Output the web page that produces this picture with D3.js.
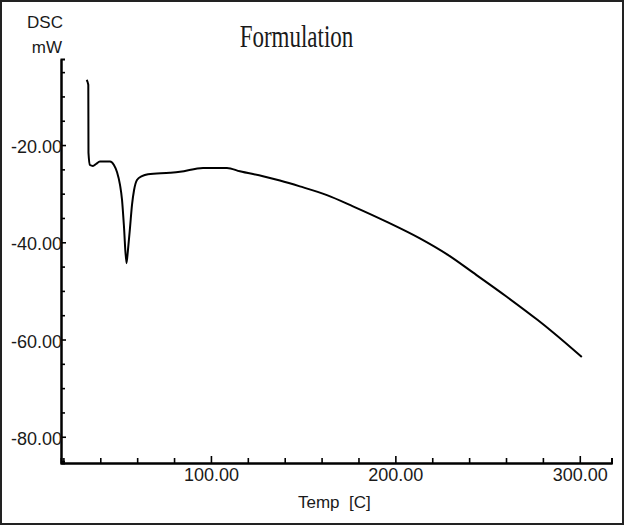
<!DOCTYPE html>
<html>
<head>
	<meta charset="UTF-8">
	<title>DSC Formulation</title>
	<script src="https://cdn.jsdelivr.net/npm/d3@7/dist/d3.min.js"></script>
	<style>
		body { margin: 0; background: #fff; }
		svg text { font-family: "Liberation Sans", Arial, sans-serif; fill: #1a1a1a; }
	</style>
</head>
<body>
	<div id="chart"></div>
	<script type="text/javascript">
	// DSC trace
	var tempC = [32.6, 33.5, 33.6, 34.4, 36.0, 37.7, 39.8, 45.3, 47.4, 49.1, 50.7, 51.8, 52.8, 54.2,
		55.0, 56.1, 57.2, 58.3, 59.9, 62.6, 65.9, 77.8, 83.2, 95.7, 108.7, 115.7, 128.2, 137.4,
		148.2, 162.9, 177.0, 195.4, 213.3, 228.5, 242.0, 260.4, 277.2, 285.4, 301.1];
	var heatFlow = [-6.6, -7.6, -21.6, -24.1, -24.3, -23.9, -23.4, -23.4, -24.1, -25.6, -28.2, -31.3, -36.5, -44.3,
		-41.6, -37.1, -32.3, -29.3, -27.2, -26.4, -26.0, -25.7, -25.5, -24.7, -24.7, -25.4, -26.4, -27.3,
		-28.5, -30.3, -32.6, -35.8, -39.2, -42.6, -46.2, -51.2, -56.0, -58.5, -63.6];

	var xMajorTicks = [100, 200, 300];
	var xMinorTicks = [20, 40, 60, 80, 120, 140, 160, 180, 220, 240, 260, 280];
	var yMajorTicks = [-20, -40, -60, -80];
	var yMinorTicks = [-5, -10, -15, -25, -30, -35, -45, -50, -55, -65, -70, -75, -85];

	var width = 624, height = 525;
	var svg = d3.select("#chart").append("svg")
		.attr("width", width)
		.attr("height", height);

	// outer frame
	svg.append("rect")
		.attr("x", 1).attr("y", 1)
		.attr("width", width - 2).attr("height", height - 2)
		.attr("fill", "none")
		.attr("stroke", "#222")
		.attr("stroke-width", 2);

	var x = d3.scaleLinear().domain([18.7, 317.2]).range([61, 611.5]);
	var y = d3.scaleLinear().domain([-2.3, -85.4]).range([59, 463]);

	// y axis (ticks point inward)
	var yMinor = svg.append("g")
		.attr("transform", "translate(61,0)")
		.call(d3.axisLeft(y).tickValues(yMinorTicks).tickSize(-4).tickFormat(""));
	var yMajor = svg.append("g")
		.attr("transform", "translate(61,0)")
		.call(d3.axisLeft(y).tickValues(yMajorTicks).tickSizeInner(-5).tickSizeOuter(0).tickPadding(-1)
			.tickFormat(function(d) { return d.toFixed(2); }));
	yMajor.selectAll("text")
		.attr("dy", "0.42em")
		.style("font-size", "18px")
		.style("font-family", "Liberation Sans, Arial, sans-serif")
		.attr("fill", "#1a1a1a");

	// x axis (ticks point up)
	var xMinor = svg.append("g")
		.attr("transform", "translate(0,463)")
		.call(d3.axisBottom(x).tickValues(xMinorTicks).tickSize(-5).tickFormat(""));
	var xMajor = svg.append("g")
		.attr("transform", "translate(0,463)")
		.call(d3.axisBottom(x).tickValues(xMajorTicks).tickSizeInner(-7).tickSizeOuter(0).tickPadding(5)
			.tickFormat(function(d) { return d.toFixed(2); }));
	xMajor.selectAll("text")
		.style("font-size", "18px")
		.style("font-family", "Liberation Sans, Arial, sans-serif")
		.attr("fill", "#1a1a1a");

	svg.selectAll(".domain").attr("stroke", "#000").attr("stroke-width", 2);
	svg.selectAll(".tick line").attr("stroke", "#000").attr("stroke-width", 1.6);

	// DSC curve
	var line = d3.line()
		.curve(d3.curveMonotoneX)
		.x(function(d, i) { return x(tempC[i]); })
		.y(function(d, i) { return y(heatFlow[i]); });

	svg.append("path")
		.attr("d", line(tempC))
		.attr("fill", "none")
		.attr("stroke", "#000")
		.attr("stroke-width", 2)
		.attr("stroke-linejoin", "round");

	// labels
	svg.append("text")
		.attr("x", 63).attr("y", 28)
		.attr("text-anchor", "end")
		.style("font-size", "17px")
		.text("DSC");
	svg.append("text")
		.attr("x", 62).attr("y", 53)
		.attr("text-anchor", "end")
		.style("font-size", "17px")
		.text("mW");

	svg.append("text")
		.attr("x", 298).attr("y", 508)
		.style("font-size", "17px")
		.style("white-space", "pre")
		.text("Temp  [C]");

	svg.append("text")
		.attr("transform", "translate(296.5,46.5) scale(1,1.35)")
		.attr("text-anchor", "middle")
		.style("font-family", "Liberation Serif, Times New Roman, serif")
		.style("font-size", "23px")
		.text("Formulation");
	</script>
</body>
</html>
